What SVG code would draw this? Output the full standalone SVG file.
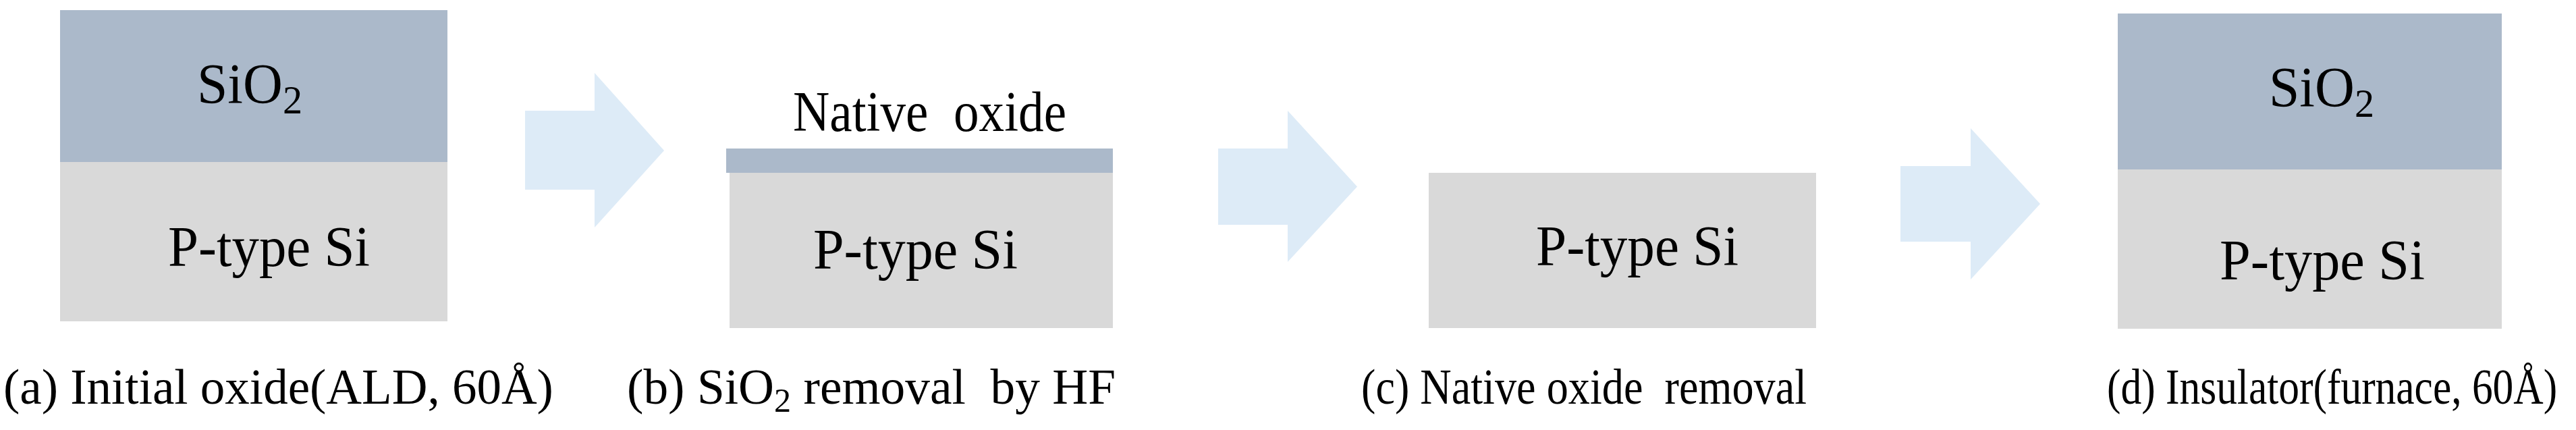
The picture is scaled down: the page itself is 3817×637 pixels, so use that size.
<svg xmlns="http://www.w3.org/2000/svg" width="3817" height="637" viewBox="0 0 3817 637">
<style>
.ox{fill:#ABB9CA}
.si{fill:#D9D9D9}
.arr{fill:#DDEBF7}
.lbl{font-family:"Liberation Serif","Times New Roman","DejaVu Serif",serif;font-size:84px;fill:#000}
.cap{font-family:"Liberation Serif","Times New Roman","DejaVu Serif",serif;font-size:73px;fill:#000}
</style>
<rect width="3817" height="637" fill="#FFFFFF"/>
<g id="connectors">
<polygon class="arr" points="778,164 881,164 881,108 984,223 881,337 881,281 778,281"/>
<polygon class="arr" points="1805,220 1908,220 1908,164 2011,276.5 1908,388 1908,333 1805,333"/>
<polygon class="arr" points="2816,246 2920,246 2920,190 3023,302 2920,414 2920,358 2816,358"/>
</g>
<g id="stepA">
<rect class="ox" x="89" y="15" width="574" height="225"/>
<rect class="si" x="89" y="240" width="574" height="236"/>
<text class="lbl" x="292" y="153" textLength="156" lengthAdjust="spacingAndGlyphs">SiO<tspan dy="15" font-size="60">2</tspan></text>
<text class="lbl" x="249" y="394" textLength="299" lengthAdjust="spacingAndGlyphs">P-type Si</text>
<text class="cap" x="5" y="598">(a) Initial oxide(ALD, 60Å)</text>
</g>
<g id="stepB">
<rect class="ox" x="1076" y="220" width="573" height="36"/>
<rect class="si" x="1081" y="256" width="568" height="230"/>
<text class="lbl" x="1175" y="194" textLength="405" lengthAdjust="spacingAndGlyphs" xml:space="preserve">Native  oxide</text>
<text class="lbl" x="1205" y="398" textLength="303" lengthAdjust="spacingAndGlyphs">P-type Si</text>
<text class="cap" x="929" y="598" textLength="724" lengthAdjust="spacingAndGlyphs" xml:space="preserve">(b) SiO<tspan dy="12" font-size="50">2</tspan><tspan dy="-12"> removal  by HF</tspan></text>
</g>
<g id="stepC">
<rect class="si" x="2117" y="256" width="574" height="230"/>
<text class="lbl" x="2276" y="393" textLength="300" lengthAdjust="spacingAndGlyphs">P-type Si</text>
<text class="cap" x="2017" y="598" textLength="660" lengthAdjust="spacingAndGlyphs" xml:space="preserve">(c) Native oxide  removal</text>
</g>
<g id="stepD">
<rect class="ox" x="3138" y="20" width="569" height="231"/>
<rect class="si" x="3138" y="251" width="569" height="236"/>
<text class="lbl" x="3362" y="158" textLength="156" lengthAdjust="spacingAndGlyphs">SiO<tspan dy="15" font-size="60">2</tspan></text>
<text class="lbl" x="3289" y="414" textLength="304" lengthAdjust="spacingAndGlyphs">P-type Si</text>
<text class="cap" transform="translate(3122,598) scale(0.842,1)" x="0" y="0">(d) Insulator(furnace, 60Å)</text>
</g>
</svg>
